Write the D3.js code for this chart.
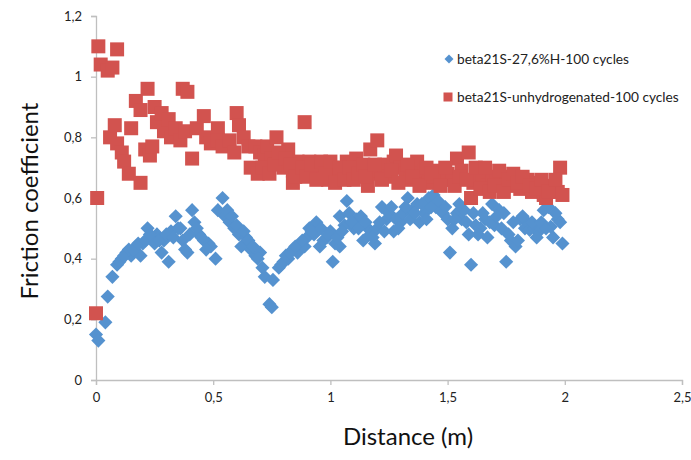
<!DOCTYPE html>
<html><head><meta charset="utf-8">
<script src="https://cdn.jsdelivr.net/npm/d3@7"></script>
<style>body{margin:0;background:#fff;} svg{display:block;}</style>
</head><body>
<svg id="chart" width="691" height="460"></svg>
<script>
const seriesNames = ["beta21S-27,6%H-100 cycles", "beta21S-unhydrogenated-100 cycles"];
const xTicks = [0, 0.5, 1, 1.5, 2, 2.5];
const xTickLabels = ["0", "0,5", "1", "1,5", "2", "2,5"];
const yTicks = [0, 0.2, 0.4, 0.6, 0.8, 1, 1.2];
const yTickLabels = ["0", "0,2", "0,4", "0,6", "0,8", "1", "1,2"];

const blueX = [0.00,0.01,0.04,0.05,0.07,0.09,0.11,0.13,0.15,0.17,0.19,0.20,0.22,0.24,0.26,0.28,0.29,0.31,0.32,0.34,
  0.35,0.37,0.38,0.39,0.41,0.42,0.44,0.46,0.48,0.49,0.51,0.52,0.54,0.55,0.57,0.59,0.61,0.62,0.64,0.66,
  0.68,0.70,0.71,0.72,0.74,0.75,0.755,0.78,0.80,0.82,0.84,0.86,0.87,0.89,0.90,0.91,0.93,0.94,0.955,0.97,
  0.985,1.00,1.01,1.02,1.04,1.04,1.06,1.07,1.08,1.10,1.11,1.13,1.14,1.16,1.17,1.19,1.20,1.22,1.24,1.25,
  1.27,1.28,1.30,1.31,1.33,1.35,1.37,1.38,1.40,1.42,1.44,1.45,1.47,1.48,1.50,1.51,1.52,1.54,1.56,1.57,
  1.59,1.60,1.62,1.64,1.66,1.67,1.69,1.70,1.72,1.74,1.75,1.77,1.79,1.81,1.83,1.84,1.85,1.87,1.89,1.91,
  1.93,1.94,1.95,1.97,1.98,1.99,
  0.10,0.12,0.14,0.16,0.18,0.21,0.23,0.25,0.27,0.30,0.33,0.36,0.40,0.43,0.45,0.47,0.56,0.58,0.60,0.63,
  0.65,0.67,0.69,0.79,0.81,0.83,0.85,0.88,0.92,0.96,0.99,1.03,1.05,1.09,1.12,1.15,1.18,
  1.21,1.23,1.26,1.29,1.32,1.34,1.36,1.39,1.41,1.43,1.46,1.49,1.53,1.55,1.58,1.61,1.63,1.65,1.68,1.71,
  1.73,1.76,1.78,1.80,1.82,1.86,1.88,1.90,1.92,1.96];
const blueY = [0.15,0.13,0.19,0.275,0.34,0.38,0.40,0.42,0.41,0.44,0.41,0.45,0.50,0.47,0.48,0.42,0.46,0.39,0.49,0.54,
  0.50,0.46,0.43,0.42,0.56,0.52,0.48,0.46,0.45,0.44,0.40,0.56,0.60,0.54,0.52,0.50,0.48,0.44,0.47,0.43,
  0.41,0.42,0.37,0.34,0.25,0.24,0.33,0.37,0.39,0.40,0.43,0.42,0.45,0.44,0.47,0.50,0.48,0.52,0.44,0.46,
  0.47,0.49,0.39,0.45,0.44,0.54,0.51,0.59,0.55,0.50,0.53,0.54,0.46,0.50,0.48,0.45,0.50,0.57,0.53,0.55,
  0.49,0.53,0.52,0.55,0.60,0.56,0.58,0.52,0.55,0.60,0.61,0.57,0.56,0.55,0.53,0.42,0.50,0.55,0.53,0.56,
  0.48,0.38,0.51,0.50,0.53,0.47,0.58,0.51,0.56,0.55,0.39,0.46,0.44,0.53,0.50,0.52,0.495,0.50,0.49,0.56,
  0.57,0.505,0.47,0.53,0.52,0.45,
  0.39,0.41,0.43,0.43,0.45,0.46,0.48,0.45,0.46,0.48,0.47,0.50,0.48,0.50,0.47,0.43,0.56,0.54,0.51,0.49,
  0.46,0.44,0.40,0.38,0.41,0.42,0.44,0.46,0.49,0.50,0.48,0.47,0.49,0.52,0.50,0.52,0.47,
  0.52,0.49,0.57,0.50,0.57,0.53,0.55,0.58,0.53,0.57,0.59,0.57,0.53,0.58,0.52,0.55,0.48,0.55,0.52,0.54,
  0.50,0.48,0.52,0.46,0.54,0.52,0.47,0.52,0.50,0.55];

const redX = [0.00,0.005,0.01,0.02,0.05,0.07,0.09,0.06,0.08,0.09,0.11,0.12,0.14,0.15,0.17,0.19,0.19,0.21,0.22,0.23,
  0.24,0.25,0.26,0.28,0.29,0.31,0.32,0.34,0.36,0.37,0.39,0.38,0.41,0.43,0.46,0.47,0.49,0.52,0.52,0.54,
  0.57,0.59,0.60,0.61,0.63,0.65,0.66,0.68,0.69,0.70,0.72,0.73,0.75,0.77,0.79,0.80,0.82,0.84,0.84,0.86,
  0.89,0.91,0.93,0.95,0.97,0.99,1.01,1.03,1.05,1.07,1.09,1.11,1.13,1.16,1.17,1.18,1.20,1.21,1.23,1.25,
  1.27,1.28,1.30,1.32,1.34,1.36,1.37,1.39,1.40,1.42,1.44,1.46,1.48,1.50,1.52,1.54,1.56,1.59,1.60,1.61,
  1.63,1.65,1.67,1.69,1.71,1.73,1.75,1.77,1.79,1.81,1.84,1.86,1.89,1.91,1.92,1.95,1.97,1.98,1.99,
  0.71,0.74,0.76,0.78,0.81,0.83,0.85,0.88,0.90,0.92,0.94,0.96,0.98,1.00,1.02,1.04,1.06,1.08,1.10,1.12,
  1.14,1.15,1.19,1.22,1.26,1.29,1.33,1.35,1.38,1.41,1.43,1.47,1.49,1.53,1.55,1.58,1.62,1.64,1.66,1.68,
  1.70,1.72,1.74,1.76,1.78,1.80,1.82,1.85,1.88,1.90,1.93,1.96];
const redY = [0.22,0.60,1.10,1.04,1.02,1.03,1.09,0.80,0.84,0.78,0.75,0.72,0.68,0.83,0.92,0.89,0.65,0.76,0.96,0.74,
  0.77,0.90,0.85,0.88,0.82,0.86,0.80,0.83,0.79,0.96,0.95,0.82,0.73,0.83,0.87,0.80,0.78,0.83,0.79,0.77,
  0.79,0.75,0.88,0.84,0.80,0.77,0.70,0.77,0.68,0.75,0.74,0.77,0.73,0.80,0.72,0.70,0.76,0.69,0.65,0.72,
  0.85,0.72,0.68,0.70,0.69,0.66,0.70,0.67,0.69,0.72,0.68,0.73,0.70,0.64,0.76,0.68,0.79,0.69,0.71,0.67,
  0.72,0.74,0.70,0.68,0.66,0.70,0.72,0.68,0.69,0.65,0.67,0.69,0.66,0.68,0.66,0.73,0.69,0.75,0.60,0.65,
  0.67,0.68,0.64,0.66,0.67,0.65,0.67,0.64,0.66,0.63,0.66,0.62,0.65,0.61,0.60,0.64,0.62,0.70,0.61,
  0.70,0.68,0.71,0.75,0.73,0.71,0.67,0.70,0.67,0.71,0.66,0.72,0.68,0.72,0.65,0.70,0.66,0.70,0.66,0.68,
  0.71,0.67,0.71,0.66,0.69,0.65,0.71,0.67,0.64,0.70,0.68,0.64,0.70,0.64,0.67,0.66,0.70,0.63,0.70,0.62,
  0.64,0.69,0.62,0.66,0.68,0.65,0.67,0.64,0.63,0.66,0.62,0.66];

const blueColor = "#5592CF", redColor = "#D2534F", axisColor = "#BFBFBF";

const svg = d3.select("#chart");
const x = d3.scaleLinear().domain([0, 2.5]).range([96, 682]);
const y = d3.scaleLinear().domain([0, 1.2]).range([380, 16]);

// axes
const xAxis = d3.axisBottom(x).tickValues(xTicks).tickFormat((d, i) => xTickLabels[i]).tickSize(5).tickPadding(8);
const yAxis = d3.axisLeft(y).tickValues(yTicks).tickFormat((d, i) => yTickLabels[i]).tickSize(5).tickPadding(9);

const gx = svg.append("g").attr("transform", `translate(0,${y(0)})`).call(xAxis);
const gy = svg.append("g").attr("transform", `translate(${x(0)},0)`).call(yAxis);
[gx, gy].forEach(g => {
  g.select(".domain").attr("stroke", axisColor).attr("stroke-width", 1.3);
  g.selectAll(".tick line").attr("stroke", axisColor).attr("stroke-width", 1.3);
  g.selectAll(".tick text").attr("fill", "#222").attr("font-family", "Lato, 'Open Sans', sans-serif").attr("font-size", 13);
});

// points
const blueData = blueX.map((d, i) => [d, blueY[i]]);
const redData = redX.map((d, i) => [d, redY[i]]);
const diamond = d3.symbol().type(d3.symbolSquare).size(100);

svg.append("g").selectAll("path").data(blueData).join("path")
  .attr("d", diamond)
  .attr("transform", d => `translate(${x(d[0])},${y(d[1])}) rotate(45)`)
  .attr("fill", blueColor);

svg.append("g").selectAll("rect").data(redData).join("rect")
  .attr("x", d => x(d[0]) - 7).attr("y", d => y(d[1]) - 7)
  .attr("width", 14).attr("height", 14)
  .attr("fill", redColor);

// axis titles
svg.append("text").attr("x", 408).attr("y", 445).attr("text-anchor", "middle")
  .attr("font-family", "Lato, 'Open Sans', sans-serif").attr("font-size", 24).attr("fill", "#111")
  .text("Distance (m)");
svg.append("text").attr("transform", "translate(38,201) rotate(-90)").attr("text-anchor", "middle")
  .attr("font-family", "Lato, 'Open Sans', sans-serif").attr("font-size", 24).attr("fill", "#111")
  .text("Friction coefficient");

// legend
const leg = svg.append("g").attr("font-family", "Lato, 'Open Sans', sans-serif").attr("font-size", 13.7).attr("fill", "#222");
leg.append("path").attr("d", d3.symbol().type(d3.symbolSquare).size(40))
  .attr("transform", "translate(449,59) rotate(45)").attr("fill", blueColor);
leg.append("text").attr("x", 457).attr("y", 59).attr("dy", "0.35em").text(seriesNames[0]);
leg.append("rect").attr("x", 443.5).attr("y", 92.5).attr("width", 9).attr("height", 9).attr("fill", redColor);
leg.append("text").attr("x", 457).attr("y", 97).attr("dy", "0.35em").text(seriesNames[1]);
</script>
</body></html>
